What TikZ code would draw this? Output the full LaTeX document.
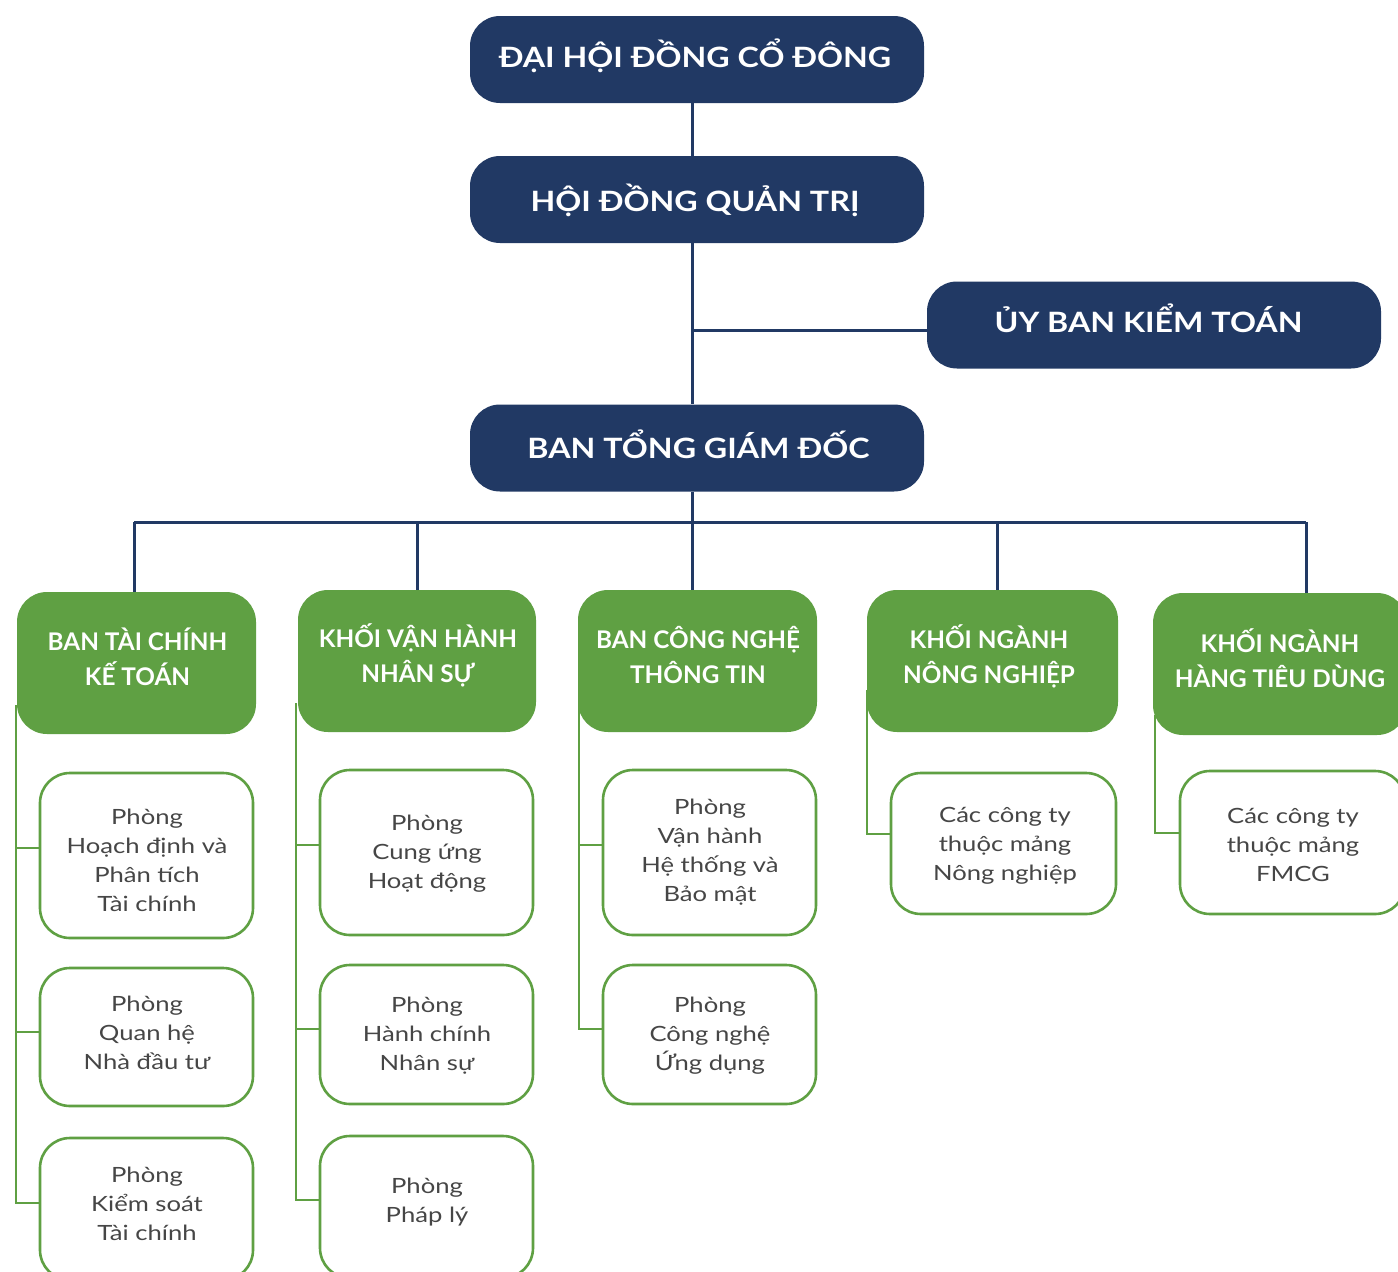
\documentclass[tikz,border=0pt]{standalone}
\usepackage{fontspec}
\setmainfont{Lato}
\newfontfamily\headfont[FakeStretch=1.15]{Lato}
\newfontfamily\bodyfont[FakeStretch=1.22]{Lato}
\definecolor{navy}{HTML}{213964}
\definecolor{leaf}{HTML}{5FA043}
\definecolor{txt}{HTML}{464646}
\begin{document}
\begin{tikzpicture}[x=1pt,y=-1pt,
  navybox/.style={fill=navy,rounded corners=30pt,minimum width=454pt,minimum height=87pt,inner sep=0pt},
  navytext/.style={anchor=base,text=white,font=\headfont\bfseries\fontsize{28}{34}\selectfont,inner sep=0pt},
  greenbox/.style={fill=leaf,rounded corners=30pt,minimum height=142pt,inner sep=0pt},
  greentext/.style={text=white,align=center,font=\bfseries\fontsize{24.3}{35}\selectfont,inner sep=0pt},
  whitebox/.style={draw=leaf,line width=2.6pt,fill=white,rounded corners=30pt,minimum width=213pt,inner sep=0pt},
  whitetext/.style={text=txt,align=center,font=\bodyfont\fontsize{21}{29}\selectfont,inner sep=0pt},
  navyline/.style={draw=navy,line width=3pt},
  greenline/.style={draw=leaf,line width=2.6pt}]
\useasboundingbox (0,0) rectangle (1398,1272);
\fill[white] (0,0) rectangle (1398,1272);
\coordinate (trunkTop) at (692,103);
\coordinate (bus) at (692,522);
\coordinate (b1) at (134,522);
\coordinate (b2) at (417,522);
\coordinate (b4) at (997,522);
\coordinate (b5) at (1306,522);
% navy boxes
\node[navybox] (dh) at (697,59.5) {};
\node[navytext] (dht) at (695,67) {ĐẠI HỘI ĐỒNG CỔ ĐÔNG};
\node[navybox] (hd) at (697,199.5) {};
\node[navytext] (hdt) at (695,211) {HỘI ĐỒNG QUẢN TRỊ};
\node[navybox] (ub) at (1154,325) {};
\node[navytext] (ubt) at (1148.5,332) {ỦY BAN KIỂM TOÁN};
\node[navybox] (bt) at (697,448) {};
\node[navytext] (btt) at (698.5,458) {BAN TỔNG GIÁM ĐỐC};
% green boxes
\node[greenbox,minimum width=239pt] (g1) at (136.5,663) {};
\node[greentext] (g1t) at (137.5,657) {BAN TÀI CHÍNH\\KẾ TOÁN};
\node[greenbox,minimum width=238pt] (g2) at (417,661) {};
\node[greentext] (g2t) at (418,655) {KHỐI VẬN HÀNH\\NHÂN SỰ};
\node[greenbox,minimum width=239pt] (g3) at (697.5,661) {};
\node[greentext] (g3t) at (698,655) {BAN CÔNG NGHỆ\\THÔNG TIN};
\node[greenbox,minimum width=251pt] (g4) at (992.5,661) {};
\node[greentext] (g4t) at (989,656) {KHỐI NGÀNH\\NÔNG NGHIỆP};
\node[greenbox,minimum width=254pt] (g5) at (1280,664) {};
\node[greentext] (g5t) at (1280,658) {KHỐI NGÀNH\\HÀNG TIÊU DÙNG};
% navy connectors
\draw[navyline] ([xshift=-5pt]dh.south) -- ([xshift=-5pt]hd.north);
\draw[navyline] ([xshift=-5pt]hd.south) -- ([xshift=-5pt]bt.north);
\draw[navyline] (ub.west |- 0,330) -- (trunkTop |- 0,330);
\draw[navyline] ([xshift=-5pt]bt.south) -- ([xshift=-5pt]bt.south |- g3.north);
\draw[navyline] (b1) -- (b5);
\draw[navyline] (b1) -- (b1 |- g1.north);
\draw[navyline] (b2) -- (b2 |- g2.north);
\draw[navyline] (b4) -- (b4 |- g4.north);
\draw[navyline] (b5) -- (b5 |- g5.north);
% white boxes
\node[whitebox,minimum height=165pt] (w11) at (146.5,855.5) {};
\node[whitetext] (w11t) at (147,860) {Phòng\\Hoạch định và\\Phân tích\\Tài chính};
\node[whitebox,minimum height=138pt] (w12) at (146.5,1037) {};
\node[whitetext] (w12t) at (147,1033) {Phòng\\Quan hệ\\Nhà đầu tư};
\node[whitebox,minimum height=142pt] (w13) at (146.5,1209) {};
\node[whitetext] (w13t) at (147,1204) {Phòng\\Kiểm soát\\Tài chính};
\node[whitebox,minimum height=165pt] (w21) at (426.5,852.5) {};
\node[whitetext] (w21t) at (427,854) {Phòng\\Cung ứng\\Hoạt động};
\node[whitebox,minimum height=139pt] (w22) at (426.5,1034.5) {};
\node[whitetext] (w22t) at (427,1036) {Phòng\\Hành chính\\Nhân sự};
\node[whitebox,minimum height=142pt] (w23) at (426.5,1207) {};
\node[whitetext] (w23t) at (427,1202) {Phòng\\Pháp lý};
\node[whitebox,minimum height=165pt] (w31) at (709.5,852.5) {};
\node[whitetext] (w31t) at (710,852) {Phòng\\Vận hành\\Hệ thống và\\Bảo mật};
\node[whitebox,minimum height=139pt] (w32) at (709.5,1034.5) {};
\node[whitetext] (w32t) at (710,1036) {Phòng\\Công nghệ\\Ứng dụng};
\node[whitebox,minimum width=225pt,minimum height=141pt] (w41) at (1003.5,843.5) {};
\node[whitetext] (w41t) at (1005,846) {Các công ty\\thuộc mảng\\Nông nghiệp};
\node[whitebox,minimum width=225pt,minimum height=143pt] (w51) at (1292.5,842.5) {};
\node[whitetext] (w51t) at (1293,845) {Các công ty\\thuộc mảng\\FMCG};
% green connectors
\coordinate (s1) at (16,705);
\coordinate (s2) at (296,703);
\coordinate (s3) at (579,705);
\coordinate (s4) at (867,690);
\coordinate (s5) at (1155,715);
\draw[greenline] (s1) |- (w13.west |- 0,1203);
\draw[greenline] (s1 |- 0,848) -- (w11.west |- 0,848);
\draw[greenline] (s1 |- 0,1032) -- (w12.west |- 0,1032);
\draw[greenline] (s2) |- (w23.west |- 0,1200);
\draw[greenline] (s2 |- 0,845) -- (w21.west |- 0,845);
\draw[greenline] (s2 |- 0,1029) -- (w22.west |- 0,1029);
\draw[greenline] (s3) |- (w32.west |- 0,1029);
\draw[greenline] (s3 |- 0,845) -- (w31.west |- 0,845);
\draw[greenline] (s4) |- (w41.west |- 0,834);
\draw[greenline] (s5) |- (w51.west |- 0,833);
\end{tikzpicture}
\end{document}
